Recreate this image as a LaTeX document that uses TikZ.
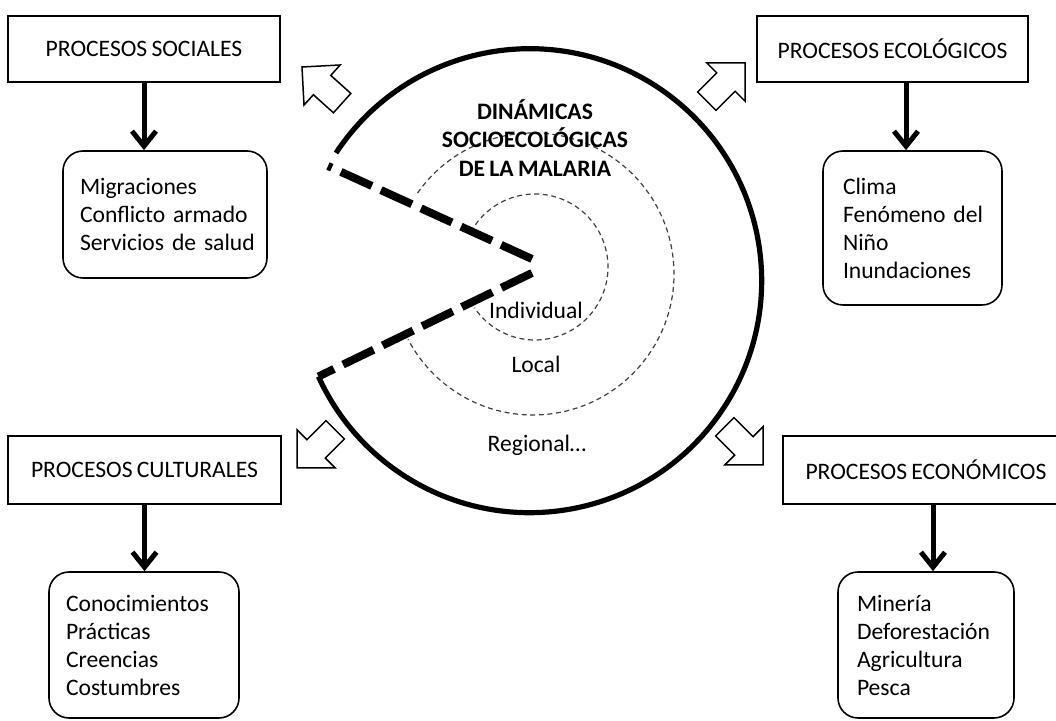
\documentclass[tikz,border=0pt]{standalone}
\usepackage{fontspec}
\setmainfont{Carlito}[WordSpace=0.8]
\usetikzlibrary{arrows.meta}
\tikzset{
  txt/.style={font=\fontsize{11.8}{14}\selectfont},
  procbox/.style={draw, line width=0.8pt, inner sep=0pt, minimum height=33pt, txt},
  listbox/.style={draw, line width=0.8pt, rounded corners=10pt, align=left, inner ysep=0pt, txt},
  downarrow/.style={line width=2.5pt, -{Straight Barb[length=7.5pt,width=12pt]}},
  bigarc/.style={line width=2.6pt},
  thickdash/.style={line width=4pt, dash pattern=on 17pt off 5pt},
  thindash/.style={line width=0.6pt, draw=black!75, dash pattern=on 2.5pt off 1.8pt},
  blockarrow/.pic={\draw[line width=0.75pt, fill=white, line join=miter]
    (0,0) -- (-27,27) -- (-27,13) -- (-54,13) -- (-54,-13) -- (-27,-13) -- (-27,-27) -- cycle;}
}
\begin{document}
\begin{tikzpicture}[x=0.5pt,y=0.5pt]
\clip (0,0) rectangle (1056,721);
\fill[white] (0,0) rectangle (1056,721);

% process boxes
\node[procbox, minimum width=136pt] (soc) at (144,672) {PROCESOS SOCIALES};
\node[procbox, minimum width=135.5pt] (eco) at (892.5,672) {PROCESOS ECOLÓGICOS};
\node[procbox, minimum width=136.5pt, minimum height=34pt] (cul) at (144.5,251) {PROCESOS CULTURALES};
\node[procbox, minimum width=143pt, minimum height=34pt] (econ) at (926,251) {PROCESOS ECONÓMICOS};

% list boxes
\node[listbox, text width=85pt, inner xsep=8.5pt, minimum height=63.5pt] (socl) at (165,506.5)
  {Migraciones\\Conflicto~armado\\Servicios~de~salud};
\node[listbox, text width=69.5pt, inner xsep=10pt, minimum height=77pt] (ecol) at (912.5,493)
  {Clima\\Fenómeno~del\\Niño\\Inundaciones};
\node[listbox, text width=78pt, inner xsep=8.5pt, minimum height=73pt] (cull) at (144,76)
  {Conocimientos\\Prácticas\\Creencias\\Costumbres};
\node[listbox, text width=69pt, inner xsep=9.5pt, minimum height=73pt] (econl) at (926,76)
  {Minería\\Deforestación\\Agricultura\\Pesca};

% down arrows
\draw[downarrow] (soc.south) -- (soc.south |- socl.north);
\draw[downarrow] ([xshift=6.75pt]eco.south) -- ([xshift=6.75pt]eco.south |- ecol.north);
\draw[downarrow] (cul.south) -- (cul.south |- cull.north);
\draw[downarrow] ([xshift=3.5pt]econ.south) -- ([xshift=3.5pt]econ.south |- econl.north);

% inner dashed circles
\draw[thindash] (535,454) ++(151.4:36.5pt) arc[start angle=151.4, end angle=-146, radius=36.5pt];
\draw[thindash] (533,447) ++(145:70.5pt) arc[start angle=145, end angle=-152.4, radius=70.5pt];

% big arc
\coordinate (arcstart) at (336,568);
\draw[bigarc] (arcstart) arc[start angle=146.6, end angle=-155.6, radius=116pt] coordinate (arcend);

% thick dashed mouth
\coordinate (vu) at (532,462);
\coordinate (vl) at (532,448);
\coordinate (ue) at (328,555);
\draw[thickdash] (vu) -- (ue);
\draw[thickdash] (vl) -- (arcend);

% texts
\node[font=\fontsize{11.8}{14.2}\selectfont\bfseries, align=center] (title) at (535,583)
  {DINÁMICAS\\SOCIOECOLÓGICAS\\DE LA MALARIA};
\node[txt] (ind) at (536,411) {Individual};
\node[txt] (loc) at (536,357) {Local};
\node[txt] (reg) at (537,276) {Regional…};

% block arrows
\pic[rotate=138] at (302,654) {blockarrow};
\pic[rotate=45] at (745,658) {blockarrow};
\pic[rotate=225] at (297,253) {blockarrow};
\pic[rotate=315] at (763,256) {blockarrow};
\end{tikzpicture}
\end{document}
